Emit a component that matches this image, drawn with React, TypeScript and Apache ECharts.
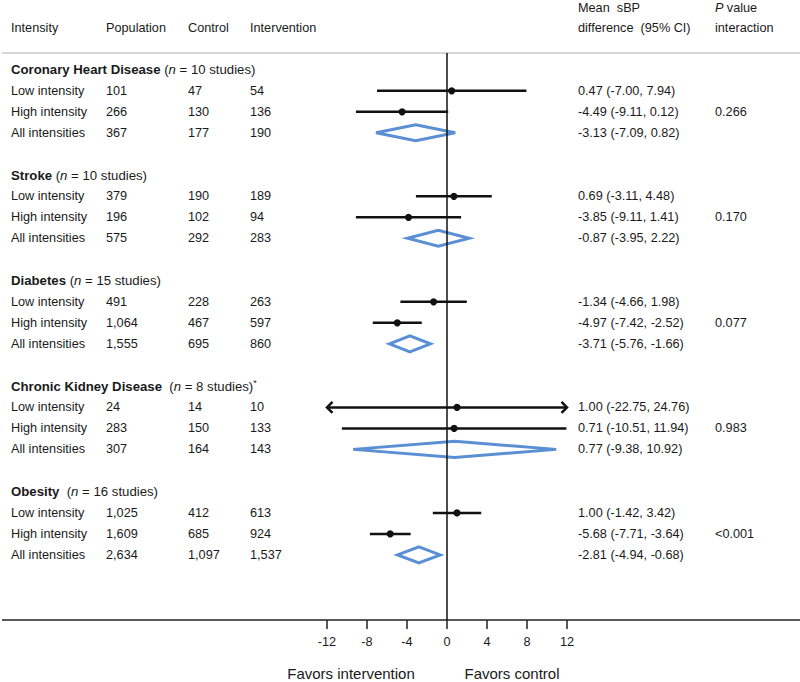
import React, { useEffect, useRef } from "react";
import * as echarts from "echarts";

const groups = ["Coronary Heart Disease", "Stroke", "Diabetes", "Chronic Kidney Disease", "Obesity"];
const studies = [10, 10, 15, 8, 16];
const titleGap = ["", "", "", " ", " "];
const titleNote = ["", "", "", "*", ""];
const intensities = ["Low intensity", "High intensity", "All intensities"];
const population = [[101, 266, 367], [379, 196, 575], [491, 1064, 1555], [24, 283, 307], [1025, 1609, 2634]];
const control = [[47, 130, 177], [190, 102, 292], [228, 467, 695], [14, 150, 164], [412, 685, 1097]];
const intervention = [[54, 136, 190], [189, 94, 283], [263, 597, 860], [10, 133, 143], [613, 924, 1537]];
const mean = [[0.47, -4.49, -3.13], [0.69, -3.85, -0.87], [-1.34, -4.97, -3.71], [1.0, 0.71, 0.77], [1.0, -5.68, -2.81]];
const lower = [[-7.0, -9.11, -7.09], [-3.11, -9.11, -3.95], [-4.66, -7.42, -5.76], [-22.75, -10.51, -9.38], [-1.42, -7.71, -4.94]];
const upper = [[7.94, 0.12, 0.82], [4.48, 1.41, 2.22], [1.98, -2.52, -1.66], [24.76, 11.94, 10.92], [3.42, -3.64, -0.68]];
const pInteraction = ["0.266", "0.170", "0.077", "0.983", "<0.001"];
const xTicks = [-12, -8, -4, 0, 4, 8, 12];

const FONT = "'Liberation Sans', Arial, Helvetica, sans-serif";
const TXT = "#1a1a1a";
const BLUE = "#5b8fd4";
const FS = 12.7;
const FS_TITLE = 13.2;
const X_MIN = -12;
const X_MAX = 12;

const COL = { intensity: 11, population: 106, control: 188, intervention: 250, ci: 578, p: 715 };

const fmt = (n: number) => n.toLocaleString("en-US");
const f2 = (n: number) => n.toFixed(2);

// layout rows (axis units on hidden y axis)
const groupStart = (g: number) => 0.8 + g * 5.025;

type Row = { g: number; k: number; y: number };
const rows: Row[] = [];
groups.forEach((_, g) => {
  intensities.forEach((__, k) => {
    rows.push({ g, k, y: groupStart(g) + k + 1 });
  });
});

export default function App() {
  const ref = useRef<HTMLDivElement>(null);
  useEffect(() => {
    if (!ref.current) return;
    const chart = echarts.init(ref.current, undefined, { renderer: "svg" });

    const textEl = (text: string, x: number, y: number, extra: any = {}) => ({
      type: "text",
      style: {
        text,
        x,
        y,
        fill: TXT,
        fontSize: FS,
        fontFamily: FONT,
        verticalAlign: "middle",
        align: "left",
        ...extra,
      },
    });

    const option: any = {
      animation: false,
      grid: { left: 327, right: 233, top: 53, bottom: 62 },
      xAxis: {
        type: "value",
        position: "bottom",
        min: X_MIN,
        max: X_MAX,
        interval: 4,
        axisLine: { show: false, onZero: false },
        axisTick: { show: true, length: 9, lineStyle: { color: "#222", width: 1.5 } },
        axisLabel: {
          color: TXT,
          fontSize: FS,
          fontFamily: FONT,
          margin: 15,
          customValues: xTicks,
        },
        splitLine: { show: false },
      },
      yAxis: {
        type: "value",
        inverse: true,
        min: 0,
        max: 27,
        show: false,
      },
      graphic: [
        { type: "line", shape: { x1: 2, y1: 53, x2: 800, y2: 53 }, style: { stroke: "#c8c8c8", lineWidth: 1.5 } },
        { type: "line", shape: { x1: 2, y1: 620, x2: 800, y2: 620 }, style: { stroke: "#222", lineWidth: 1.5 } },
        textEl("Intensity", COL.intensity, 28),
        textEl("Population", COL.population, 28),
        textEl("Control", COL.control, 28),
        textEl("Intervention", COL.intervention, 28),
        textEl("Mean  sBP", COL.ci, 8),
        textEl("difference  (95% CI)", COL.ci, 28),
        {
          type: "text",
          style: {
            text: "{i|P} {r|value}",
            x: COL.p,
            y: 8,
            verticalAlign: "middle",
            rich: {
              i: { fontStyle: "italic", fontSize: FS, fontFamily: FONT, fill: TXT, color: TXT },
              r: { fontSize: FS, fontFamily: FONT, fill: TXT, color: TXT },
            },
          },
        },
        textEl("interaction", COL.p, 28),
        textEl("Favors intervention", 351, 673, { fontSize: 15, align: "center" }),
        textEl("Favors control", 512, 673, { fontSize: 15, align: "center" }),
      ],
      series: [
        {
          type: "custom",
          name: "titles",
          clip: false,
          silent: true,
          data: groups.map((_, g) => [0, groupStart(g), g]),
          encode: { x: 0, y: 1 },
          renderItem: (params: any, api: any) => {
            const g = api.value(2);
            const y = api.coord([0, api.value(1)])[1];
            const st = { fontSize: FS_TITLE, fontFamily: FONT, fill: TXT, color: TXT };
            return {
              type: "text",
              style: {
                text: `{b|${groups[g]}}{r| ${titleGap[g]}(}{i|n}{r| = ${studies[g]} studies)}{s|${titleNote[g]}}`,
                x: COL.intensity,
                y,
                verticalAlign: "middle",
                rich: {
                  b: { ...st, fontWeight: "bold" },
                  r: st,
                  i: { ...st, fontStyle: "italic" },
                  s: { ...st, fontSize: 9, padding: [0, 0, 6, 0] },
                },
              },
            };
          },
        },
        {
          type: "custom",
          name: "rows",
          clip: false,
          silent: true,
          data: rows.map((r, i) => [mean[r.g][r.k], r.y, i]),
          encode: { x: 0, y: 1 },
          renderItem: (params: any, api: any) => {
            const i = api.value(2);
            const r = rows[i];
            const { g, k } = r;
            const y = api.coord([0, api.value(1)])[1];
            const lo = lower[g][k];
            const hi = upper[g][k];
            const m = mean[g][k];
            const xl = api.coord([Math.max(lo, X_MIN), 0])[0];
            const xh = api.coord([Math.min(hi, X_MAX), 0])[0];
            const xm = api.coord([m, 0])[0];
            const children: any[] = [];
            if (k < 2) {
              children.push({
                type: "line",
                shape: { x1: xl, y1: y, x2: xh, y2: y },
                style: { stroke: "#111", lineWidth: 2.5 },
              });
              if (lo < X_MIN) {
                children.push({
                  type: "polyline",
                  shape: { points: [[xl + 5.5, y - 5.5], [xl, y], [xl + 5.5, y + 5.5]] },
                  style: { stroke: "#111", lineWidth: 2.5, fill: "none" },
                });
              }
              if (hi > X_MAX) {
                children.push({
                  type: "polyline",
                  shape: { points: [[xh - 5.5, y - 5.5], [xh, y], [xh - 5.5, y + 5.5]] },
                  style: { stroke: "#111", lineWidth: 2.5, fill: "none" },
                });
              }
              children.push({
                type: "circle",
                shape: { cx: xm, cy: y, r: 3.6 },
                style: { fill: "#111" },
              });
            } else {
              children.push({
                type: "polygon",
                shape: { points: [[xl, y], [xm, y - 8], [xh, y], [xm, y + 8]] },
                style: { stroke: BLUE, lineWidth: 3, fill: "#fff", lineJoin: "miter" },
              });
            }
            const ts = { fill: TXT, fontSize: FS, fontFamily: FONT, verticalAlign: "middle", align: "left" };
            const t = (text: string, x: number) => ({ type: "text", style: { ...ts, text, x, y } });
            children.push(t(intensities[k], COL.intensity));
            children.push(t(fmt(population[g][k]), COL.population));
            children.push(t(fmt(control[g][k]), COL.control));
            children.push(t(fmt(intervention[g][k]), COL.intervention));
            children.push(t(`${f2(m)} (${f2(lo)}, ${f2(hi)})`, COL.ci));
            if (k === 1) children.push(t(pInteraction[g], COL.p));
            return { type: "group", children };
          },
          markLine: {
            silent: true,
            symbol: "none",
            label: { show: false },
            lineStyle: { color: "#111", width: 1.5, type: "solid" },
            data: [{ xAxis: 0 }],
          },
          z: 3,
        },
      ],
    };
    chart.setOption(option);
    return () => chart.dispose();
  }, []);
  return (
    <div
      ref={ref}
      style={{ position: "absolute", left: 0, top: 0, width: 800, height: 682, background: "#fff" }}
    />
  );
}
